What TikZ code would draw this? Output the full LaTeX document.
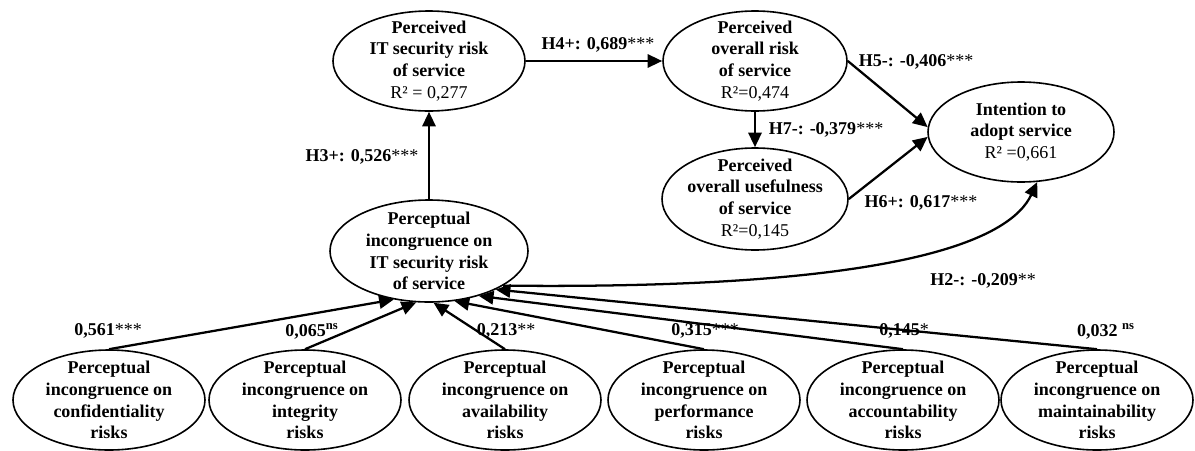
\documentclass[tikz,border=0pt]{standalone}
\usepackage{fontspec}
\setmainfont{Liberation Serif}
\usetikzlibrary{shapes.geometric,arrows.meta}
\newcommand{\stars}[1]{{\mdseries #1}}
\begin{document}
\begin{tikzpicture}[x=0.75pt,y=-0.75pt,
  lv/.style={draw, line width=1.2pt, ellipse, inner sep=0pt},
  txt/.style={align=center, inner sep=0pt, font=\fontsize{13.5}{16.3}\selectfont\bfseries},
  conn/.style={line width=1.7pt, -{Triangle[length=11pt,width=10pt]}},
  lab/.style={inner sep=0pt, font=\fontsize{13.5}{16.3}\selectfont\bfseries}]
\useasboundingbox (0,0) rectangle (1195,450);

% latent variables
\node[lv, minimum width=144pt, minimum height=75pt] (A) at (429,61) {};
\node[txt] (At) at (A) {Perceived\\IT security risk\\of service\\{\mdseries R² = 0,277}};
\node[lv, minimum width=138pt, minimum height=75pt] (B) at (755,61) {};
\node[txt] (Bt) at (B) {Perceived\\overall risk\\of service\\{\mdseries R²=0,474}};
\node[lv, minimum width=139.5pt, minimum height=76.5pt] (C) at (755,199) {};
\node[txt] (Ct) at (C) {Perceived\\overall usefulness\\of service\\{\mdseries R²=0,145}};
\node[lv, minimum width=139.5pt, minimum height=75pt] (D) at (1021,132) {};
\node[txt] (Dt) at (D) {Intention to\\adopt service\\{\mdseries R² =0,661}};
\node[lv, minimum width=148.5pt, minimum height=76.5pt] (E) at (429,251) {};
\node[txt] (Et) at (E) {Perceptual\\incongruence on\\IT security risk\\of service};

\node[lv, minimum width=144pt, minimum height=75pt] (P1) at (109,400) {};
\node[txt] (P1t) at (P1) {Perceptual\\incongruence on\\confidentiality\\risks};
\node[lv, minimum width=144pt, minimum height=75pt] (P2) at (305,400) {};
\node[txt] (P2t) at (P2) {Perceptual\\incongruence on\\integrity\\risks};
\node[lv, minimum width=144pt, minimum height=75pt] (P3) at (505,400) {};
\node[txt] (P3t) at (P3) {Perceptual\\incongruence on\\availability\\risks};
\node[lv, minimum width=144pt, minimum height=75pt] (P4) at (704,400) {};
\node[txt] (P4t) at (P4) {Perceptual\\incongruence on\\performance\\risks};
\node[lv, minimum width=144pt, minimum height=75pt] (P5) at (903,400) {};
\node[txt] (P5t) at (P5) {Perceptual\\incongruence on\\accountability\\risks};
\node[lv, minimum width=144pt, minimum height=75pt] (P6) at (1097,400) {};
\node[txt] (P6t) at (P6) {Perceptual\\incongruence on\\maintainability\\risks};

% structural paths
\draw[conn] (A.east) -- (B.west);
\draw[conn] (E.north) -- (A.south);
\draw[conn] (B.south) -- (C.north);
\draw[conn] (B.east) -- (D.177);
\draw[conn] (C.east) -- (D.183);
\draw[conn] (E.-25) .. controls (900,290) and (1010,240) .. (D.-72);

% formative paths
\draw[conn] (P1.north) -- (E.234);
\draw[conn] (P2.north) -- (E.256);
\draw[conn] (P3.north) -- (E.275);
\draw[conn] (P4.north) -- (E.297);
\draw[conn] (P5.north) -- (E.318);
\draw[conn] (P6.north) -- (E.330);

% labels
\node[lab] (h4) at (598,45) {H4+: 0,689\stars{***}};
\node[lab] (h5) at (916,62) {H5-: -0,406\stars{***}};
\node[lab] (h7) at (826,130) {H7-: -0,379\stars{***}};
\node[lab] (h6) at (921,203) {H6+: 0,617\stars{***}};
\node[lab] (h3) at (362,157) {H3+: 0,526\stars{***}};
\node[lab] (h2) at (983,281) {H2-: -0,209\stars{**}};

\node[lab] (l1) at (108,331) {0,561\stars{***}};
\node[lab] (l2) at (312,331) {0,065\textsuperscript{ns}};
\node[lab] (l3) at (506,331) {0,213\stars{**}};
\node[lab] (l4) at (705,331) {0,315\stars{***}};
\node[lab] (l5) at (904,331) {0,145\stars{*}};
\node[lab] (l6) at (1106,331) {0,032 \textsuperscript{ns}};
\end{tikzpicture}
\end{document}
